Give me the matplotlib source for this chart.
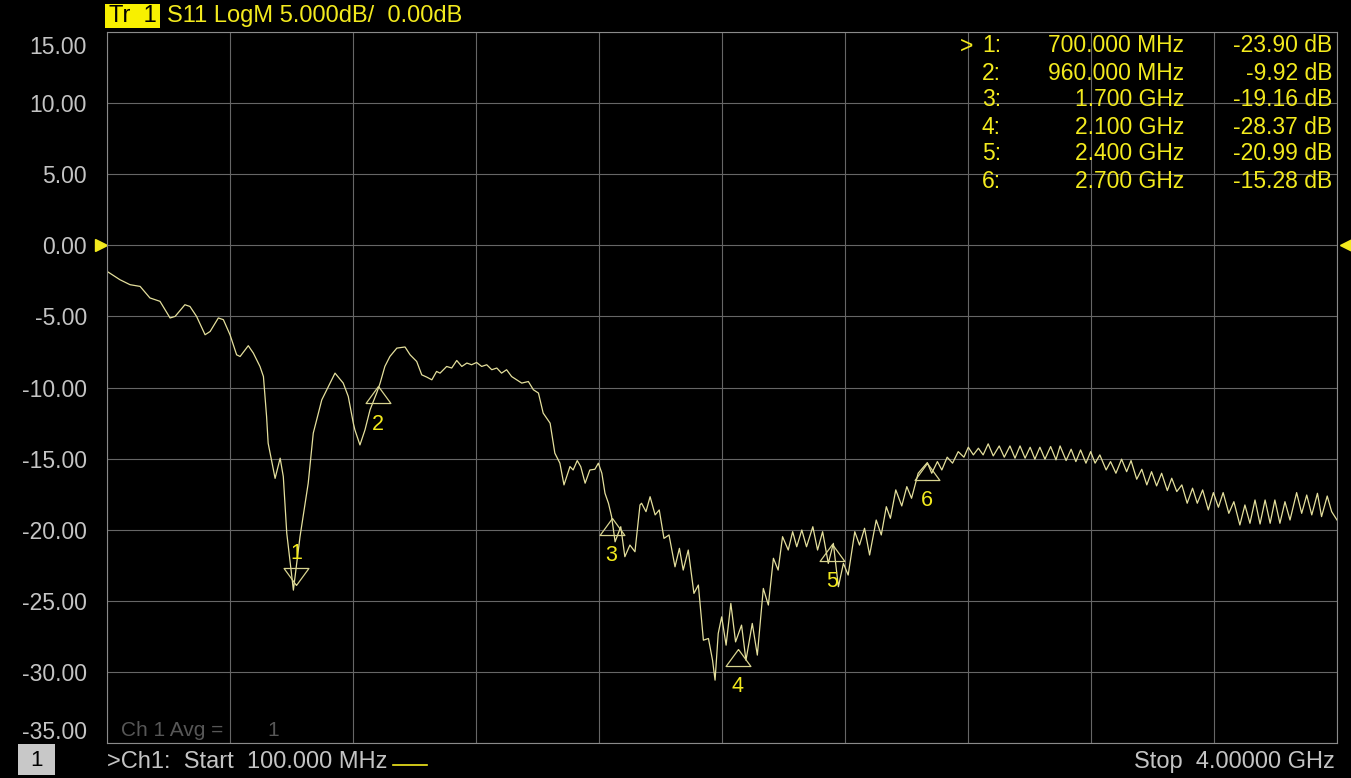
import matplotlib.pyplot as plt
from matplotlib.path import Path
from matplotlib.patches import Rectangle
from matplotlib.transforms import ScaledTranslation

plt.rcParams['font.family'] = ['Liberation Sans', 'DejaVu Sans']

# S11 trace (MHz, dB)
freq_mhz = [100, 141, 173, 205, 236, 268, 300, 316, 347, 363, 384, 411, 427, 453, 469,
            490, 511, 522, 548, 564, 585, 596, 606, 611, 633, 649, 659, 670, 691, 712,
            738, 754, 781, 797, 823, 849, 865, 881, 886, 902, 918, 934, 955, 966, 981,
            997, 1019, 1045, 1061, 1082, 1098, 1114, 1130, 1145, 1156, 1177, 1193, 1209,
            1225, 1241, 1256, 1272, 1288, 1304, 1320, 1336, 1351, 1367, 1383, 1399, 1415,
            1436, 1452, 1468, 1483, 1505, 1520, 1536, 1549, 1568, 1578, 1591, 1602, 1616,
            1631, 1647, 1658, 1669, 1679, 1690, 1700, 1711, 1729, 1742, 1758, 1774, 1790,
            1795, 1809, 1822, 1838, 1851, 1866, 1882, 1901, 1915, 1927, 1943, 1961, 1975,
            1991, 2007, 2020, 2028, 2038, 2049, 2063, 2078, 2093, 2112, 2126, 2146, 2162,
            2181, 2197, 2213, 2228, 2242, 2260, 2274, 2287, 2303, 2318, 2338, 2353, 2369,
            2387, 2403, 2419, 2435, 2450, 2471, 2486, 2502, 2518, 2539, 2555, 2571, 2584,
            2601, 2620, 2636, 2651, 2672, 2701, 2715, 2733, 2747, 2764, 2781, 2799, 2817,
            2831, 2847, 2863, 2878, 2894, 2910, 2929, 2945, 2963, 2979, 2995, 3011, 3027,
            3042, 3058, 3074, 3092, 3109, 3122, 3141, 3157, 3172, 3187, 3204, 3219, 3233,
            3248, 3268, 3282, 3299, 3317, 3333, 3347, 3365, 3381, 3397, 3412, 3428, 3444,
            3462, 3476, 3492, 3508, 3525, 3542, 3557, 3574, 3592, 3608, 3624, 3639, 3657,
            3673, 3692, 3708, 3724, 3740, 3756, 3772, 3788, 3803, 3819, 3835, 3851, 3872,
            3888, 3904, 3920, 3938, 3951, 3969, 3983, 4000]
s11_db = [-1.83, -2.42, -2.77, -2.89, -3.70, -3.94, -5.11, -5.00, -4.18, -4.30, -5.00, -6.29,
          -6.06, -5.11, -5.23, -6.29, -7.70, -7.82, -7.06, -7.58, -8.52, -9.23, -12.04,
          -13.92, -16.39, -14.97, -16.27, -20.25, -24.25, -20.49, -16.73, -13.21, -10.87,
          -10.16, -8.99, -9.69, -10.63, -12.51, -12.98, -14.04, -12.98, -11.57, -10.39,
          -9.69, -8.52, -7.82, -7.23, -7.15, -7.70, -8.17, -9.11, -9.27, -9.46, -8.87,
          -8.99, -8.52, -8.63, -8.10, -8.52, -8.28, -8.40, -8.24, -8.52, -8.40, -8.75,
          -8.63, -8.99, -8.75, -9.23, -9.46, -9.69, -9.58, -10.16, -10.39, -11.80, -12.51,
          -14.62, -15.32, -16.85, -15.56, -15.80, -15.14, -15.56, -16.73, -15.80, -15.75,
          -15.32, -16.03, -17.44, -18.14, -19.08, -20.85, -19.79, -21.90, -21.08, -21.55,
          -18.26, -18.14, -18.73, -17.68, -18.96, -18.61, -20.61, -20.37, -22.61, -21.31,
          -22.84, -21.43, -24.48, -23.89, -27.77, -27.65, -29.18, -30.58, -27.30, -26.13,
          -28.12, -25.18, -27.89, -26.71, -29.18, -26.59, -28.82, -24.13, -25.30, -22.01,
          -22.84, -20.49, -21.43, -20.14, -21.20, -20.02, -21.20, -19.79, -21.43, -20.14,
          -22.37, -20.96, -24.01, -22.37, -23.19, -20.14, -21.08, -19.90, -21.78, -19.32,
          -20.37, -18.38, -19.20, -17.20, -18.33, -16.97, -17.79, -16.03, -15.28, -16.03,
          -15.21, -15.80, -14.90, -15.32, -14.51, -14.90, -14.20, -14.74, -14.27, -14.74,
          -13.96, -14.81, -14.11, -14.90, -14.11, -14.97, -14.11, -14.97, -14.20, -15.04,
          -14.20, -15.04, -14.15, -15.09, -14.11, -15.14, -14.34, -15.21, -14.39, -15.32,
          -14.51, -15.32, -14.74, -15.80, -15.21, -16.03, -15.04, -15.92, -15.14, -16.45,
          -15.75, -16.85, -15.92, -16.92, -16.03, -17.25, -16.38, -17.32, -16.85, -18.14,
          -17.08, -18.14, -17.20, -18.61, -17.39, -18.42, -17.39, -18.85, -18.03, -19.67,
          -18.26, -19.55, -17.91, -19.60, -17.91, -19.55, -17.91, -19.55, -18.03, -19.32,
          -17.39, -18.85, -17.56, -18.96, -17.44, -19.08, -17.63, -18.73, -19.32]

# markers
marker_freq = [700, 960, 1700, 2100, 2400, 2700]
marker_db = [-23.90, -9.92, -19.16, -28.37, -20.99, -15.28]
marker_freq_text = ['700.000 MHz', '960.000 MHz', '1.700 GHz', '2.100 GHz', '2.400 GHz', '2.700 GHz']
marker_db_text = ['-23.90 dB', '-9.92 dB', '-19.16 dB', '-28.37 dB', '-20.99 dB', '-15.28 dB']

y_ticks = [15, 10, 5, 0, -5, -10, -15, -20, -25, -30, -35]
y_labels = ['15.00', '10.00', '5.00', '0.00', '-5.00', '-10.00', '-15.00',
            '-20.00', '-25.00', '-30.00', '-35.00']
x_grid = [100, 490, 880, 1270, 1660, 2050, 2440, 2830, 3220, 3610, 4000]

W, H = 1351, 778
TRACE = '#e4df9c'
YELLOW = '#f3ea1e'
GREY = '#c4c4c4'
GRID = '#666666'

fig = plt.figure(figsize=(W / 100, H / 100), dpi=100, facecolor='black')
ax = fig.add_axes([107 / W, 1 - 743 / H, 1230 / W, 711 / H], facecolor='black')

ax.plot(freq_mhz, s11_db, color=TRACE, lw=0.9)
ax.set_xlim(100, 4000)
ax.set_ylim(-35, 15)

ax.set_xticks(x_grid)
ax.set_yticks(y_ticks)
ax.set_yticklabels(y_labels)
ax.grid(True, color=GRID, lw=0.8)
ax.tick_params(axis='x', length=0, labelbottom=False)
ax.tick_params(axis='y', length=0, pad=14.4, labelsize=16.5, labelcolor=GREY)
# end labels are pulled inside the plot height
for lab in ax.get_yticklabels():
    if lab.get_text() == '15.00':
        lab.set_transform(lab.get_transform() + ScaledTranslation(0, -0.13, fig.dpi_scale_trans))
    elif lab.get_text() == '-35.00':
        lab.set_transform(lab.get_transform() + ScaledTranslation(0, 0.13, fig.dpi_scale_trans))
for sp in ax.spines.values():
    sp.set_color('#8a8a8a')
    sp.set_linewidth(0.8)

# marker triangles, apex on the trace
up = Path([(0, 0), (-0.73, -1), (0.73, -1), (0, 0)])
down = Path([(0, 0), (-0.73, 1), (0.73, 1), (0, 0)])
for i, (f, v) in enumerate(zip(marker_freq, marker_db)):
    if i == 0:
        ax.plot(f, v, marker=down, ms=24.5, mfc='none', mec='#d8d490', mew=0.9)
        ax.annotate(str(i + 1), (f, v), xytext=(0, 32), textcoords='offset pixels',
                    ha='center', va='center', color=YELLOW, fontsize=15.5)
    else:
        ax.plot(f, v, marker=up, ms=24.5, mfc='none', mec='#d8d490', mew=0.9)
        ax.annotate(str(i + 1), (f, v), xytext=(0, -38), textcoords='offset pixels',
                    ha='center', va='center', color=YELLOW, fontsize=15.5)

# reference level arrows at 0 dB
ax.plot([-0.005], [0], marker='>', ms=9, color=YELLOW, transform=ax.get_yaxis_transform(), clip_on=False)
ax.plot([1.0075], [0], marker='<', ms=9, color=YELLOW, transform=ax.get_yaxis_transform(), clip_on=False)

# marker table
for i in range(6):
    y = 1 - (46 + 27 * i) / H
    fig.text(982 / W, y, '%d:' % (i + 1), color=YELLOW, fontsize=16.5, va='center')
    fig.text(1184 / W, y, marker_freq_text[i], color=YELLOW, fontsize=16.5, va='center', ha='right')
    fig.text(1332 / W, y, marker_db_text[i], color=YELLOW, fontsize=16.5, va='center', ha='right')
fig.text(960 / W, 1 - 46 / H, '>', color=YELLOW, fontsize=16.5, va='center')

# header
fig.add_artist(Rectangle((105 / W, 1 - 28 / H), 55 / W, 24 / H, transform=fig.transFigure,
                         facecolor='#f8f000', edgecolor='none'))
fig.text(109 / W, 1 - 16 / H, 'Tr  1', color='black', fontsize=17, va='center')
fig.text(167 / W, 1 - 16 / H, 'S11 LogM 5.000dB/  0.00dB', color=YELLOW, fontsize=17, va='center')

# footer
fig.add_artist(Rectangle((18 / W, 1 - 775 / H), 37 / W, 31 / H, transform=fig.transFigure,
                         facecolor='#c8c8c8', edgecolor='none'))
fig.text(37 / W, 1 - 760 / H, '1', color='black', fontsize=16, va='center', ha='center')
fig.text(121 / W, 1 - 730 / H, 'Ch 1 Avg =', color='#575757', fontsize=15, va='center')
fig.text(273 / W, 1 - 730 / H, '1', color='#575757', fontsize=15, va='center', ha='center')
fig.text(107 / W, 1 - 762 / H, '>Ch1:  Start  100.000 MHz', color=GREY, fontsize=17, va='center')
fig.add_artist(plt.Line2D([393 / W, 427 / W], [1 - 765 / H, 1 - 765 / H], transform=fig.transFigure,
                          color=YELLOW, lw=1.2))
fig.text(1335 / W, 1 - 762 / H, 'Stop  4.00000 GHz', color=GREY, fontsize=17, va='center', ha='right')

fig.savefig('out.png', dpi=100, facecolor='black')
